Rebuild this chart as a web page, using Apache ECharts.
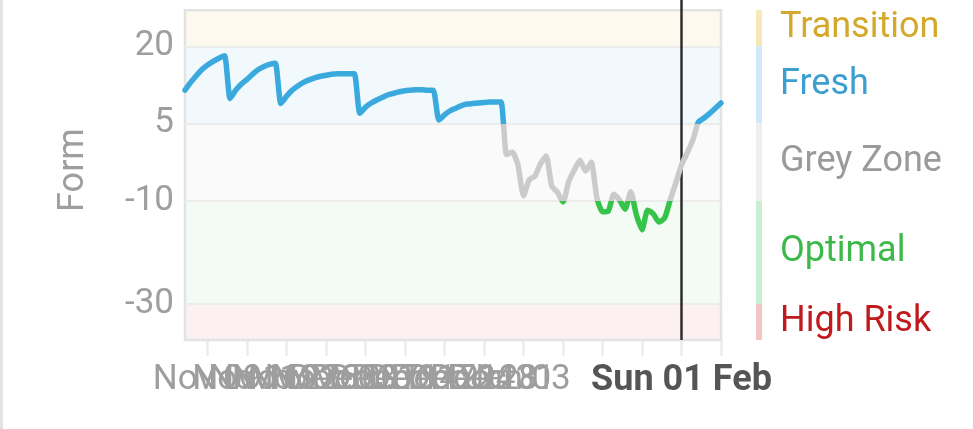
<!DOCTYPE html>
<html>
<head>
<meta charset="utf-8">
<script src="https://cdn.jsdelivr.net/npm/echarts@6/dist/echarts.min.js"></script>
<style>
  html, body { margin: 0; padding: 0; background: #ffffff; }
  #wrap { position: relative; width: 973px; height: 429px; overflow: hidden; }
  #edge { position: absolute; left: 0; top: 0; width: 3px; height: 429px; background: #e3e3e3; }
  #chart { position: absolute; left: 0; top: 0; width: 973px; height: 429px; }
</style>
</head>
<body>
<div id="wrap"><div id="edge"></div><div id="chart"></div></div>
<script>
// Day offsets are counted from Nov 09 (day 0). First point is day -4 (Nov 05), last is day 91 (Feb 08).
const firstDay = -4;
const formValues = [
  11.5, 13.0, 14.3, 15.5,
  16.4, 17.1, 17.7, 18.2, 9.9, 11.5, 12.7,
  13.6, 14.6, 15.5, 16.1, 16.5, 16.7, 8.9,
  10.3, 11.5, 12.3, 13.0, 13.5, 13.9, 14.2,
  14.4, 14.6, 14.7, 14.7, 14.7, 14.7, 7.0,
  8.2, 9.0, 9.6, 10.1, 10.6, 10.9, 11.2,
  11.4, 11.5, 11.6, 11.6, 11.5, 11.5, 5.7,
  6.7, 7.5, 8.0, 8.5, 8.8, 8.9, 9.0,
  9.1, 9.2, 9.2, 9.2, -1.0, -0.5, -3.0,
  -9.0, -5.9, -5.2, -2.8, -1.3, -7.1, -8.3,
  -10.2, -6.3, -4.0, -2.1, -4.2, -2.5, -9.4,
  -12.1, -12.0, -8.7, -9.8, -11.6, -8.2, -12.7,
  -15.6, -11.8, -12.5, -14.1, -13.3, -9.8, -6.5,
  -3.0, -0.7, 1.8, 5.3, 6.1, 7.0, 8.0,
  9.0
];
const tickDays = [0, 7, 14, 21, 28, 35, 42, 49, 56, 63, 70, 77, 84, 91];
const labelDays = [0, 3, 7, 10, 14, 17, 21, 24, 28, 31, 35, 38, 42, 45, 49, 52, 55, 84];
const labelTexts = ['Nov 09', 'Nov 12', 'Nov 16', 'Nov 19', 'Nov 23', 'Nov 26', 'Nov 30', 'Dec 03', 'Dec 07', 'Dec 10', 'Dec 14', 'Dec 17', 'Dec 21', 'Dec 24', 'Dec 28', 'Dec 31', 'Jan 03', 'Sun 01 Feb'];
const todayDay = 84;
const yTickValues = [20, 5, -10, -30];
const zoneNames = ['Transition', 'Fresh', 'Grey Zone', 'Optimal', 'High Risk'];
const zoneLows = [20, 5, -10, -30, -37];
const zoneHighs = [27, 20, 5, -10, -30];

const zoneFill = ['#fdf9ef', '#f2f9fd', '#fafafa', '#f3fbf4', '#fcf0f0'];
const zoneBar = ['#f7e8b8', '#cfe9f6', '#efefef', '#caeed1', '#f3c4c4'];
const zoneText = ['#d4a82a', '#3c9fd0', '#9a9a9a', '#3cb94a', '#bf1a1d'];

const FONT = 'Roboto';
const yMin = -37, yMax = 29;

const lineData = formValues.map((v, i) => [firstDay + i, v]);

const chart = echarts.init(document.getElementById('chart'), null, { renderer: 'canvas' });

const bandAreas = zoneNames.map((n, i) => [
  { yAxis: zoneLows[i], itemStyle: { color: zoneFill[i] } },
  { yAxis: zoneHighs[i] }
]);
bandAreas.push([
  { yAxis: yMin, itemStyle: { color: 'rgba(0,0,0,0)', borderColor: '#e3e3e3', borderWidth: 2.5 } },
  { yAxis: 27 }
]);

const stripAreas = zoneNames.map((n, i) => [
  {
    name: n,
    yAxis: zoneLows[i],
    itemStyle: { color: zoneBar[i] },
    label: { show: true, position: 'right', distance: 18, formatter: n, color: zoneText[i], fontSize: 36, fontFamily: FONT }
  },
  { yAxis: zoneHighs[i] }
]);

chart.setOption({
  animation: false,
  grid: [
    { left: 185, width: 536, top: 0, height: 340, containLabel: false },
    { left: 756, width: 6, top: 10, height: 330, containLabel: false }
  ],
  xAxis: [
    {
      type: 'value', gridIndex: 0, min: -4, max: 91,
      axisLine: { show: true, onZero: false, lineStyle: { color: 'rgba(0,0,0,0)' } },
      splitLine: { show: false },
      axisTick: { show: true, customValues: tickDays, length: 16, lineStyle: { color: '#ececec', width: 2.5 } },
      axisLabel: {
        customValues: labelDays,
        showMinLabel: true, showMaxLabel: true, hideOverlap: false,
        fontSize: 35, fontFamily: FONT, color: '#9e9e9e', margin: 23,
        formatter: function (v) {
          const k = labelDays.indexOf(v);
          if (k < 0) return '';
          if (v === todayDay) return '{b|' + labelTexts[k] + '}';
          return labelTexts[k];
        },
        rich: { b: { fontSize: 36, fontFamily: FONT, fontWeight: 'bold', color: '#555555' } }
      }
    },
    { type: 'value', gridIndex: 1, min: 0, max: 1, show: false }
  ],
  yAxis: [
    {
      type: 'value', gridIndex: 0, min: yMin, max: yMax,
      name: 'Form', nameLocation: 'middle', nameGap: 93,
      nameTextStyle: { fontSize: 36, fontFamily: FONT, color: '#9e9e9e' },
      axisLine: { show: false }, axisTick: { show: false }, splitLine: { show: false },
      axisLabel: { customValues: yTickValues, showMinLabel: true, showMaxLabel: true, fontSize: 35, fontFamily: FONT, color: '#9e9e9e', margin: 11 }
    },
    { type: 'value', gridIndex: 1, min: -37, max: 27, show: false }
  ],
  visualMap: {
    show: false, type: 'piecewise', dimension: 1, seriesIndex: 0,
    pieces: [
      { lt: -10, color: '#35c449' },
      { gte: -10, lt: 5, color: '#cbcbcb' },
      { gte: 5, color: '#3aa9dd' }
    ]
  },
  series: [
    {
      type: 'line', xAxisIndex: 0, yAxisIndex: 0,
      data: lineData, showSymbol: false, symbol: 'none', smooth: 0.2,
      lineStyle: { width: 5.5, cap: 'round', join: 'round' },
      z: 5,
      markArea: { silent: true, data: bandAreas, z: 1 },
      markLine: {
        silent: true, symbol: 'none', label: { show: false },
        data: [
          { yAxis: 20, lineStyle: { color: '#ececec', width: 2, type: 'solid' } },
          { yAxis: 5, lineStyle: { color: '#ececec', width: 2, type: 'solid' } },
          { yAxis: -10, lineStyle: { color: '#ececec', width: 2, type: 'solid' } },
          { yAxis: -30, lineStyle: { color: '#ececec', width: 2, type: 'solid' } },
          { xAxis: todayDay, lineStyle: { color: '#2e2e2e', width: 2.5, type: 'solid' } }
        ]
      }
    },
    {
      type: 'line', xAxisIndex: 1, yAxisIndex: 1, data: [],
      markArea: { silent: true, data: stripAreas }
    }
  ]
});
</script>
</body>
</html>
